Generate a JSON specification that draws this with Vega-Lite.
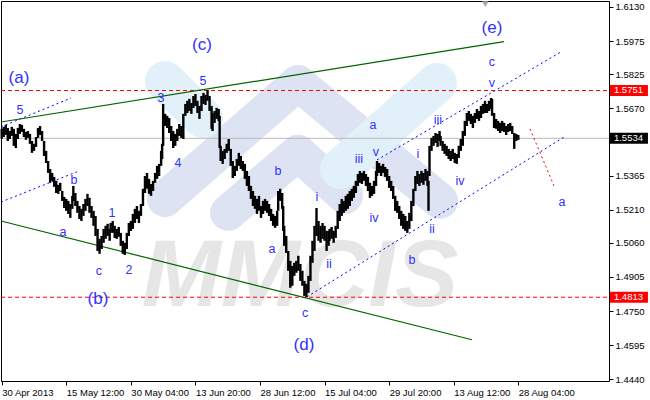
{
  "$schema": "https://vega.github.io/schema/vega-lite/v6.json",
  "width": 608,
  "height": 380,
  "autosize": {"type": "none"},
  "padding": {"left": 1, "top": 1, "right": 41, "bottom": 19},
  "background": "white",
  "config": {"view": {"stroke": "#000000", "strokeWidth": 1}, "font": "Liberation Sans"},
  "datasets": {
    "price": [
      {"b":0,"p":1.5531,"h":1.5577},{"b":2,"p":1.5540,"h":1.5586},{"b":4,"p":1.5549,"h":1.5595},{"b":6,"p":1.5522,"h":1.5581},
      {"b":8,"p":1.5531,"h":1.5567},{"b":10,"p":1.5545,"h":1.5586},{"b":12,"p":1.5500,"h":1.5577},{"b":14,"p":1.5490,"h":1.5554},
      {"b":16,"p":1.5531,"h":1.5581},{"b":18,"p":1.5554,"h":1.5599},{"b":20,"p":1.5563,"h":1.5595},{"b":22,"p":1.5540,"h":1.5577},
      {"b":24,"p":1.5527,"h":1.5563},{"b":26,"p":1.5536,"h":1.5567},{"b":28,"p":1.5509,"h":1.5554},{"b":30,"p":1.5468,"h":1.5522},
      {"b":32,"p":1.5477,"h":1.5509},{"b":34,"p":1.5495,"h":1.5540},{"b":36,"p":1.5536,"h":1.5581},{"b":38,"p":1.5549,"h":1.5590},
      {"b":40,"p":1.5522,"h":1.5567},{"b":42,"p":1.5454,"h":1.5522},{"b":44,"p":1.5422,"h":1.5477},{"b":46,"p":1.5377,"h":1.5431},
      {"b":48,"p":1.5332,"h":1.5395},{"b":50,"p":1.5341,"h":1.5377},{"b":52,"p":1.5314,"h":1.5359},{"b":54,"p":1.5286,"h":1.5341},
      {"b":56,"p":1.5282,"h":1.5323},{"b":58,"p":1.5295,"h":1.5332},{"b":60,"p":1.5250,"h":1.5295},{"b":62,"p":1.5218,"h":1.5268},
      {"b":64,"p":1.5205,"h":1.5259},{"b":66,"p":1.5191,"h":1.5250},{"b":68,"p":1.5173,"h":1.5236},{"b":70,"p":1.5214,"h":1.5273},
      {"b":71,"p":1.5250,"h":1.5318},{"b":73,"p":1.5227,"h":1.5286},{"b":75,"p":1.5196,"h":1.5250},{"b":77,"p":1.5168,"h":1.5227},
      {"b":79,"p":1.5159,"h":1.5214},{"b":81,"p":1.5182,"h":1.5236},{"b":83,"p":1.5205,"h":1.5259},{"b":85,"p":1.5227,"h":1.5282},
      {"b":87,"p":1.5196,"h":1.5264},{"b":89,"p":1.5173,"h":1.5227},{"b":91,"p":1.5137,"h":1.5205},{"b":93,"p":1.5091,"h":1.5182},
      {"b":95,"p":1.5023,"h":1.5123},{"b":97,"p":1.5010,"h":1.5078},{"b":99,"p":1.5032,"h":1.5091},{"b":101,"p":1.5060,"h":1.5123},
      {"b":103,"p":1.5078,"h":1.5137},{"b":105,"p":1.5091,"h":1.5146},{"b":107,"p":1.5069,"h":1.5123},{"b":108,"p":1.5105,"h":1.5150},
      {"b":110,"p":1.5105,"h":1.5159},{"b":112,"p":1.5082,"h":1.5137},{"b":114,"p":1.5078,"h":1.5123},{"b":116,"p":1.5087,"h":1.5132},
      {"b":118,"p":1.5046,"h":1.5105},{"b":120,"p":1.5010,"h":1.5069},{"b":122,"p":1.5005,"h":1.5060},{"b":124,"p":1.5032,"h":1.5105},
      {"b":126,"p":1.5091,"h":1.5150},{"b":128,"p":1.5114,"h":1.5159},{"b":130,"p":1.5123,"h":1.5191},{"b":132,"p":1.5150,"h":1.5214},
      {"b":134,"p":1.5168,"h":1.5227},{"b":136,"p":1.5150,"h":1.5205},{"b":138,"p":1.5182,"h":1.5236},{"b":140,"p":1.5227,"h":1.5305},
      {"b":142,"p":1.5286,"h":1.5363},{"b":144,"p":1.5305,"h":1.5377},{"b":146,"p":1.5282,"h":1.5350},{"b":148,"p":1.5273,"h":1.5327},
      {"b":150,"p":1.5295,"h":1.5341},{"b":152,"p":1.5332,"h":1.5377},{"b":154,"p":1.5350,"h":1.5409},{"b":156,"p":1.5363,"h":1.5418},
      {"b":158,"p":1.5409,"h":1.5477},{"b":159,"p":1.5440,"h":1.5509},{"b":160,"p":1.5500,"h":1.5690},{"b":162,"p":1.5590,"h":1.5645},
      {"b":164,"p":1.5581,"h":1.5636},{"b":166,"p":1.5558,"h":1.5626},{"b":168,"p":1.5522,"h":1.5590},{"b":170,"p":1.5490,"h":1.5567},
      {"b":172,"p":1.5500,"h":1.5554},{"b":174,"p":1.5522,"h":1.5577},{"b":176,"p":1.5545,"h":1.5599},{"b":178,"p":1.5536,"h":1.5590},
      {"b":180,"p":1.5531,"h":1.5645},{"b":182,"p":1.5636,"h":1.5690},{"b":184,"p":1.5649,"h":1.5704},{"b":186,"p":1.5658,"h":1.5713},
      {"b":188,"p":1.5645,"h":1.5694},{"b":190,"p":1.5672,"h":1.5726},{"b":192,"p":1.5681,"h":1.5735},{"b":194,"p":1.5649,"h":1.5704},
      {"b":196,"p":1.5622,"h":1.5681},{"b":198,"p":1.5658,"h":1.5726},{"b":200,"p":1.5690,"h":1.5740},{"b":202,"p":1.5685,"h":1.5731},
      {"b":204,"p":1.5704,"h":1.5753},{"b":206,"p":1.5658,"h":1.5726},{"b":208,"p":1.5577,"h":1.5681},{"b":209,"p":1.5567,"h":1.5649},
      {"b":211,"p":1.5604,"h":1.5658},{"b":213,"p":1.5622,"h":1.5672},{"b":215,"p":1.5613,"h":1.5667},{"b":216,"p":1.5490,"h":1.5636},
      {"b":217,"p":1.5431,"h":1.5500},{"b":219,"p":1.5418,"h":1.5477},{"b":221,"p":1.5440,"h":1.5486},{"b":223,"p":1.5468,"h":1.5509},
      {"b":225,"p":1.5477,"h":1.5531},{"b":227,"p":1.5409,"h":1.5486},{"b":229,"p":1.5354,"h":1.5431},{"b":231,"p":1.5363,"h":1.5409},
      {"b":233,"p":1.5386,"h":1.5440},{"b":235,"p":1.5409,"h":1.5468},{"b":237,"p":1.5395,"h":1.5454},{"b":239,"p":1.5386,"h":1.5431},
      {"b":241,"p":1.5350,"h":1.5418},{"b":243,"p":1.5318,"h":1.5386},{"b":245,"p":1.5295,"h":1.5363},{"b":247,"p":1.5259,"h":1.5318},
      {"b":249,"p":1.5227,"h":1.5295},{"b":251,"p":1.5214,"h":1.5273},{"b":253,"p":1.5191,"h":1.5259},{"b":255,"p":1.5205,"h":1.5273},
      {"b":257,"p":1.5173,"h":1.5227},{"b":259,"p":1.5191,"h":1.5250},{"b":261,"p":1.5205,"h":1.5259},{"b":263,"p":1.5196,"h":1.5250},
      {"b":265,"p":1.5182,"h":1.5236},{"b":267,"p":1.5159,"h":1.5214},{"b":269,"p":1.5137,"h":1.5191},{"b":271,"p":1.5128,"h":1.5182},
      {"b":273,"p":1.5137,"h":1.5205},{"b":274,"p":1.5205,"h":1.5295},{"b":276,"p":1.5250,"h":1.5305},{"b":278,"p":1.5214,"h":1.5286},
      {"b":279,"p":1.5114,"h":1.5227},{"b":280,"p":1.5046,"h":1.5137},{"b":282,"p":1.5014,"h":1.5091},{"b":284,"p":1.4933,"h":1.5023},
      {"b":286,"p":1.4856,"h":1.4978},{"b":288,"p":1.4865,"h":1.4955},{"b":290,"p":1.4910,"h":1.4969},{"b":292,"p":1.4924,"h":1.4978},
      {"b":294,"p":1.4933,"h":1.5001},{"b":296,"p":1.4887,"h":1.4964},{"b":298,"p":1.4865,"h":1.4933},{"b":300,"p":1.4819,"h":1.4887},
      {"b":302,"p":1.4813,"h":1.4874},{"b":304,"p":1.4833,"h":1.4910},{"b":306,"p":1.4887,"h":1.5001},{"b":308,"p":1.4969,"h":1.5069},
      {"b":310,"p":1.5023,"h":1.5137},{"b":312,"p":1.5091,"h":1.5218},{"b":314,"p":1.5069,"h":1.5159},{"b":316,"p":1.5060,"h":1.5137},
      {"b":318,"p":1.5078,"h":1.5150},{"b":320,"p":1.5069,"h":1.5137},{"b":322,"p":1.5023,"h":1.5114},{"b":324,"p":1.5046,"h":1.5114},
      {"b":325,"p":1.5069,"h":1.5123},{"b":327,"p":1.5078,"h":1.5132},{"b":329,"p":1.5060,"h":1.5114},{"b":331,"p":1.5082,"h":1.5137},
      {"b":333,"p":1.5123,"h":1.5205},{"b":335,"p":1.5159,"h":1.5236},{"b":337,"p":1.5182,"h":1.5259},{"b":339,"p":1.5196,"h":1.5250},
      {"b":341,"p":1.5205,"h":1.5273},{"b":343,"p":1.5214,"h":1.5282},{"b":345,"p":1.5227,"h":1.5295},{"b":347,"p":1.5250,"h":1.5305},
      {"b":349,"p":1.5264,"h":1.5318},{"b":351,"p":1.5286,"h":1.5341},{"b":353,"p":1.5318,"h":1.5372},{"b":355,"p":1.5332,"h":1.5386},
      {"b":357,"p":1.5327,"h":1.5377},{"b":359,"p":1.5341,"h":1.5386},{"b":361,"p":1.5318,"h":1.5372},{"b":363,"p":1.5295,"h":1.5359},
      {"b":365,"p":1.5264,"h":1.5332},{"b":367,"p":1.5273,"h":1.5318},{"b":369,"p":1.5282,"h":1.5341},{"b":371,"p":1.5318,"h":1.5386},
      {"b":372,"p":1.5363,"h":1.5431},{"b":374,"p":1.5377,"h":1.5422},{"b":376,"p":1.5363,"h":1.5409},{"b":378,"p":1.5377,"h":1.5418},
      {"b":380,"p":1.5359,"h":1.5404},{"b":382,"p":1.5341,"h":1.5395},{"b":384,"p":1.5309,"h":1.5363},{"b":386,"p":1.5295,"h":1.5341},
      {"b":388,"p":1.5259,"h":1.5318},{"b":390,"p":1.5205,"h":1.5273},{"b":392,"p":1.5196,"h":1.5250},{"b":394,"p":1.5168,"h":1.5227},
      {"b":396,"p":1.5137,"h":1.5205},{"b":398,"p":1.5123,"h":1.5191},{"b":400,"p":1.5114,"h":1.5182},{"b":402,"p":1.5105,"h":1.5159},
      {"b":404,"p":1.5123,"h":1.5196},{"b":406,"p":1.5159,"h":1.5250},{"b":408,"p":1.5227,"h":1.5305},{"b":410,"p":1.5295,"h":1.5363},
      {"b":412,"p":1.5327,"h":1.5386},{"b":414,"p":1.5318,"h":1.5372},{"b":416,"p":1.5332,"h":1.5386},{"b":418,"p":1.5323,"h":1.5377},
      {"b":420,"p":1.5341,"h":1.5395},{"b":422,"p":1.5318,"h":1.5386},{"b":423,"p":1.5205,"h":1.5341},{"b":424,"p":1.5363,"h":1.5500},
      {"b":426,"p":1.5477,"h":1.5536},{"b":428,"p":1.5500,"h":1.5545},{"b":430,"p":1.5513,"h":1.5558},{"b":432,"p":1.5495,"h":1.5554},
      {"b":434,"p":1.5522,"h":1.5567},{"b":435,"p":1.5500,"h":1.5545},{"b":437,"p":1.5477,"h":1.5522},{"b":439,"p":1.5463,"h":1.5509},
      {"b":441,"p":1.5454,"h":1.5500},{"b":443,"p":1.5440,"h":1.5486},{"b":445,"p":1.5431,"h":1.5477},{"b":447,"p":1.5440,"h":1.5486},
      {"b":449,"p":1.5422,"h":1.5468},{"b":451,"p":1.5418,"h":1.5463},{"b":453,"p":1.5445,"h":1.5500},{"b":455,"p":1.5477,"h":1.5531},
      {"b":457,"p":1.5500,"h":1.5567},{"b":459,"p":1.5545,"h":1.5613},{"b":461,"p":1.5590,"h":1.5649},{"b":463,"p":1.5613,"h":1.5658},
      {"b":465,"p":1.5599,"h":1.5645},{"b":467,"p":1.5581,"h":1.5636},{"b":469,"p":1.5604,"h":1.5649},{"b":471,"p":1.5622,"h":1.5667},
      {"b":473,"p":1.5613,"h":1.5658},{"b":475,"p":1.5626,"h":1.5681},{"b":477,"p":1.5645,"h":1.5690},{"b":479,"p":1.5649,"h":1.5704},
      {"b":481,"p":1.5649,"h":1.5690},{"b":483,"p":1.5658,"h":1.5704},{"b":485,"p":1.5667,"h":1.5717},{"b":486,"p":1.5636,"h":1.5713},
      {"b":488,"p":1.5581,"h":1.5649},{"b":490,"p":1.5577,"h":1.5622},{"b":492,"p":1.5567,"h":1.5613},{"b":494,"p":1.5558,"h":1.5604},
      {"b":496,"p":1.5567,"h":1.5613},{"b":498,"p":1.5563,"h":1.5604},{"b":500,"p":1.5549,"h":1.5590},{"b":502,"p":1.5563,"h":1.5599},
      {"b":504,"p":1.5567,"h":1.5604},{"b":506,"p":1.5554,"h":1.5590},{"b":508,"p":1.5486,"h":1.5558},{"b":510,"p":1.5522,"h":1.5554},
      {"b":512,"p":1.5527,"h":1.5549}
    ],
    "lavender": [
      {"id":"B","b":161.8,"p":1.5259},{"id":"B","b":293.6,"p":1.5785},{"id":"B","b":434.4,"p":1.5250},
      {"id":"E","b":224.3,"p":1.5196},{"id":"E","b":293.6,"p":1.5468},{"id":"E","b":340.2,"p":1.5273}
    ],
    "lightblue": [
      {"id":"A","b":161.8,"p":1.5794},{"id":"A","b":199.5,"p":1.5626},
      {"id":"C","b":335.3,"p":1.5395},{"id":"C","b":431.4,"p":1.5785}
    ],
    "mark": [{"b":295.6,"p":1.4774,"t":"MMCIS"}],
    "gray": [{"id":"g","b":-0.7,"p":1.5534},{"id":"g","b":601.9,"p":1.5534}],
    "reds": [{"id":"r1","b":-0.7,"p":1.5751},{"id":"r1","b":601.9,"p":1.5751},{"id":"r2","b":-0.7,"p":1.4813},{"id":"r2","b":601.9,"p":1.4813}],
    "green": [{"id":"g1","b":-0.7,"p":1.5608},{"id":"g1","b":497.8,"p":1.5973},{"id":"g2","b":-0.7,"p":1.5159},{"id":"g2","b":466.1,"p":1.4620}],
    "blue": [
      {"id":"d1","b":-0.7,"p":1.5586},{"id":"d1","b":68.7,"p":1.5717},
      {"id":"d2","b":-0.7,"p":1.5245},{"id":"d2","b":74.6,"p":1.5382},
      {"id":"d3","b":302.6,"p":1.4815},{"id":"d3","b":559.3,"p":1.5545},
      {"id":"d4","b":372,"p":1.5436},{"id":"d4","b":554.3,"p":1.5926}
    ],
    "proj": [{"b":523.6,"p":1.5577},{"b":547.4,"p":1.5318}],
    "small": [
      {"t":"5","b":18.1,"p":1.5663},{"t":"b","b":71.7,"p":1.5345},{"t":"a","b":60.8,"p":1.5109},{"t":"1","b":109.3,"p":1.5196},
      {"t":"c","b":96.4,"p":1.4933},{"t":"2","b":126.2,"p":1.4937},{"t":"3","b":157.9,"p":1.5717},{"t":"4","b":174.7,"p":1.5422},
      {"t":"5","b":199.5,"p":1.5794},{"t":"b","b":273.8,"p":1.5386},{"t":"a","b":267.9,"p":1.5032},{"t":"i","b":312.5,"p":1.5268},
      {"t":"ii","b":324.4,"p":1.4964},{"t":"c","b":300.6,"p":1.4742},{"t":"a","b":368,"p":1.5595},{"t":"iii","b":354.1,"p":1.5441},
      {"t":"v","b":370.9,"p":1.5472},{"t":"iv","b":369,"p":1.5173},{"t":"i","b":412.6,"p":1.5463},{"t":"b","b":406.6,"p":1.4982},
      {"t":"ii","b":426.5,"p":1.5123},{"t":"iii","b":432.4,"p":1.5617},{"t":"iv","b":454.2,"p":1.5341},{"t":"c","b":485.9,"p":1.5880},
      {"t":"v","b":485.9,"p":1.5785},{"t":"a","b":555.3,"p":1.5246}
    ],
    "big": [
      {"t":"(a)","b":17.1,"p":1.5808},{"t":"(b)","b":95.4,"p":1.4806},{"t":"(c)","b":198.5,"p":1.5957},
      {"t":"(d)","b":299.6,"p":1.4597},{"t":"(e)","b":485.9,"p":1.6035}
    ],
    "redbox": [{"p":1.5751,"t":"1.5751"},{"p":1.4813,"t":"1.4813"}],
    "blackbox": [{"p":1.5534,"t":"1.5534"}],
    "tri": [{"b":479.3,"p":1.6143}]
  },
  "layer": [
    {
      "encoding": {
        "x": {"field": "b", "type": "quantitative", "title": null,
          "scale": {"domain": [-0.7, 601.9], "nice": false, "zero": false},
          "axis": {"values": [0, 64, 128, 192, 256, 320, 384, 448, 512],
            "labelExpr": "['30 Apr 2013','15 May 12:00','30 May 04:00','13 Jun 20:00','28 Jun 12:00','15 Jul 04:00','29 Jul 20:00','13 Aug 12:00','28 Aug 04:00'][round(datum.value/64)]",
            "title": null, "grid": false, "domain": false, "tickSize": 4, "tickColor": "#000000",
            "labelAlign": "left", "labelBaseline": "top", "labelPadding": 2,
            "labelFont": "Liberation Sans", "labelFontSize": 9.5, "labelColor": "#000000",
            "labelOverlap": false, "labelBound": false, "labelFlush": false}},
        "y": {"field": "p", "type": "quantitative", "title": null,
          "scale": {"domain": [1.4433, 1.6157], "nice": false, "zero": false},
          "axis": {"orient": "right", "values": [1.613, 1.5975, 1.5825, 1.567, 1.5365, 1.521, 1.506, 1.4905, 1.475, 1.4595, 1.444],
            "format": ".4f", "title": null, "grid": false, "domain": false, "tickSize": 4, "tickColor": "#000000",
            "labelPadding": 2, "labelFont": "Liberation Sans", "labelFontSize": 9.5, "labelColor": "#000000",
            "labelOverlap": false, "labelBound": false, "labelFlush": false}}
      },
      "layer": [
        {"data": {"name": "lavender"}, "mark": {"type": "line", "color": "#dee3f3", "strokeWidth": 36, "strokeCap": "round", "strokeJoin": "round"},
          "encoding": {"detail": {"field": "id"}}},
        {"data": {"name": "lightblue"}, "mark": {"type": "line", "color": "#e2f0f9", "strokeWidth": 40, "strokeCap": "round", "strokeJoin": "round"},
          "encoding": {"detail": {"field": "id"}}},
        {"data": {"name": "mark"}, "mark": {"type": "text", "font": "Liberation Sans", "fontSize": 95, "fontStyle": "italic", "fontWeight": "bold", "color": "#e6e6e6", "align": "center", "baseline": "alphabetic"},
          "encoding": {"text": {"field": "t"}}},
        {"data": {"name": "gray"}, "mark": {"type": "line", "color": "#b8b8b8", "strokeWidth": 1}, "encoding": {"detail": {"field": "id"}}},
        {"data": {"name": "reds"}, "mark": {"type": "line", "color": "#ff0000", "strokeWidth": 1, "strokeDash": [4, 3]}, "encoding": {"detail": {"field": "id"}}},
        {"data": {"name": "green"}, "mark": {"type": "line", "color": "#006400", "strokeWidth": 1.2}, "encoding": {"detail": {"field": "id"}}},
        {"data": {"name": "blue"}, "mark": {"type": "line", "color": "#0000ff", "strokeWidth": 1, "strokeDash": [2, 3]}, "encoding": {"detail": {"field": "id"}}},
        {"data": {"name": "proj"}, "mark": {"type": "line", "color": "#ff0000", "strokeWidth": 1, "strokeDash": [2, 3]}, "encoding": {}},
        {"data": {"name": "price"}, "mark": {"type": "rule", "color": "#000000", "strokeWidth": 2.4}, "encoding": {"y2": {"field": "h"}}},
        {"data": {"name": "small"}, "mark": {"type": "text", "font": "Liberation Sans", "fontSize": 12.5, "color": "#3030ff", "align": "center", "baseline": "middle"},
          "encoding": {"text": {"field": "t"}}},
        {"data": {"name": "big"}, "mark": {"type": "text", "font": "Liberation Sans", "fontSize": 17, "color": "#3030ff", "align": "center", "baseline": "middle"},
          "encoding": {"text": {"field": "t"}}},
        {"data": {"name": "tri"}, "mark": {"type": "point", "shape": "triangle-down", "filled": true, "size": 45, "color": "#a8a8a8", "opacity": 1}, "encoding": {}}
      ]
    },
    {
      "encoding": {
        "x": {"datum": 602.9, "type": "quantitative", "title": null,
          "scale": {"domain": [-0.7, 601.9], "nice": false, "zero": false},
          "axis": {"values": [0, 64, 128, 192, 256, 320, 384, 448, 512],
            "labelExpr": "['30 Apr 2013','15 May 12:00','30 May 04:00','13 Jun 20:00','28 Jun 12:00','15 Jul 04:00','29 Jul 20:00','13 Aug 12:00','28 Aug 04:00'][round(datum.value/64)]",
            "title": null, "grid": false, "domain": false, "tickSize": 4, "tickColor": "#000000",
            "labelAlign": "left", "labelBaseline": "top", "labelPadding": 2,
            "labelFont": "Liberation Sans", "labelFontSize": 9.5, "labelColor": "#000000",
            "labelOverlap": false, "labelBound": false, "labelFlush": false}},
        "y": {"field": "p", "type": "quantitative", "title": null,
          "scale": {"domain": [1.4433, 1.6157], "nice": false, "zero": false},
          "axis": {"orient": "right", "values": [1.613, 1.5975, 1.5825, 1.567, 1.5365, 1.521, 1.506, 1.4905, 1.475, 1.4595, 1.444],
            "format": ".4f", "title": null, "grid": false, "domain": false, "tickSize": 4, "tickColor": "#000000",
            "labelPadding": 2, "labelFont": "Liberation Sans", "labelFontSize": 9.5, "labelColor": "#000000",
            "labelOverlap": false, "labelBound": false, "labelFlush": false}}
      },
      "layer": [
        {"data": {"name": "redbox"}, "mark": {"type": "rect", "color": "#ff0000", "yOffset": -5.5, "y2Offset": 5.5, "clip": false},
          "encoding": {"x2": {"datum": 640.5}, "y2": {"field": "p"}}},
        {"data": {"name": "blackbox"}, "mark": {"type": "rect", "color": "#000000", "yOffset": -5.5, "y2Offset": 5.5, "clip": false},
          "encoding": {"x2": {"datum": 640.5}, "y2": {"field": "p"}}},
        {"data": {"name": "redbox"}, "mark": {"type": "text", "font": "Liberation Sans", "fontSize": 9.5, "color": "#ffffff", "align": "left", "baseline": "middle", "clip": false},
          "encoding": {"x": {"datum": 606.8}, "text": {"field": "t"}}},
        {"data": {"name": "blackbox"}, "mark": {"type": "text", "font": "Liberation Sans", "fontSize": 9.5, "color": "#ffffff", "align": "left", "baseline": "middle", "clip": false},
          "encoding": {"x": {"datum": 606.8}, "text": {"field": "t"}}}
      ]
    }
  ]
}
